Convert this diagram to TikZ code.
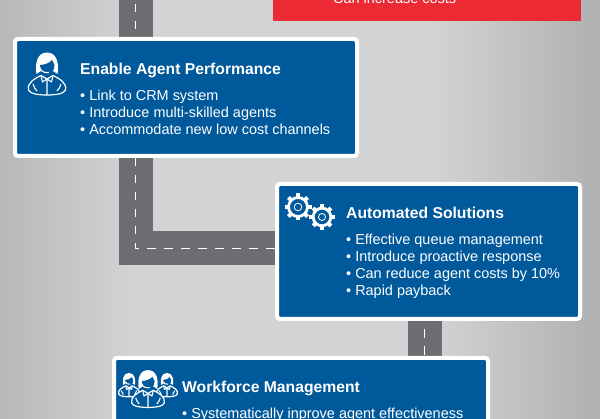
\documentclass[tikz,border=0pt]{standalone}
\usepackage{fontspec}
\setmainfont{Liberation Sans}
\usetikzlibrary{
    positioning,
    calc,
    shadows,
    backgrounds
}
\definecolor{cardblue}{HTML}{00599B}
\definecolor{roadgrey}{HTML}{6D6E71}
\definecolor{alertred}{HTML}{EC2A33}
\definecolor{paperleft}{HTML}{B7B8BA}
\definecolor{papermid}{HTML}{D2D3D5}
\definecolor{paperright}{HTML}{AEB0B2}
\pgfdeclarehorizontalshading{paper}{100bp}{
    color(0bp)=(paperleft);
    color(25bp)=(paperleft);
    color(36bp)=(papermid);
    color(61bp)=(papermid);
    color(75bp)=(paperright);
    color(100bp)=(paperright)
}
\tikzset{
    card/.style={
        rectangle,
        anchor=north west,
        fill=cardblue,
        draw=white,
        line width=4pt,
        rounded corners=3pt,
        drop shadow={opacity=.4, shadow xshift=0pt, shadow yshift=-1.5pt}
    },
    alert/.style={
        rectangle,
        anchor=north west,
        fill=alertred,
        inner sep=0pt,
        outer sep=0pt
    },
    heading/.style={
        font=\fontsize{15.7}{18}\selectfont\bfseries,
        text=white,
        inner sep=0pt,
        text height=11pt,
        text depth=3pt
    },
    points/.style={
        font=\fontsize{14.45}{17.3}\selectfont,
        text=white,
        align=left,
        inner sep=0pt
    },
    road/.style={
        draw=roadgrey,
        line width=34pt
    },
    lane/.style={
        draw=white,
        line width=1.2pt,
        dash pattern=on 8.5pt off 8.5pt
    },
    agent/.pic={
        \fill [white] (-10.5,0) .. controls (-12,8) and (-11,21.5) .. (0,21.5)
            .. controls (11,21.5) and (12,8) .. (10.5,0) -- (6,3) -- (-6,3) -- cycle;
        \fill [cardblue] (-7,9) .. controls (-3,9) and (3,11) .. (5,14)
            .. controls (6,12) and (7,11) .. (7.5,9)
            .. controls (7.5,3) and (3,-1) .. (0,-1)
            .. controls (-3,-1) and (-7,3) .. (-7,9) -- cycle;
        \draw [white, line width=1.1pt] (-7,6) .. controls (-6,2) and (-2,1) .. (2,1.5);
        \draw [white, line width=1.2pt, fill=cardblue, line join=round]
            (-6,-1.5) .. controls (-13,-5) and (-20,-9) .. (-18.5,-16)
            .. controls (-17,-20) and (-8,-21) .. (0,-21)
            .. controls (8,-21) and (17,-20) .. (18.5,-16)
            .. controls (20,-9) and (13,-5) .. (6,-1.5)
            -- (0,-5) -- cycle;
        \draw [white, line width=1.1pt, line join=round]
            (0,-5) -- (0,-21)
            (-6,-1.5) -- (-4.5,-8) -- (0,-5) -- (4.5,-8) -- (6,-1.5)
            (-14,-10) .. controls (-13,-13) and (-12,-15) .. (-10,-17)
            (14,-10) .. controls (13,-13) and (12,-15) .. (10,-17);
    },
    gearwheel/.pic={
        \foreach \tooth in {0,45,...,315} {
            \draw [white, line width=4pt] (\tooth:8) -- (\tooth:13.5);
        }
        \draw [white, line width=2.8pt, fill=cardblue] (0,0) circle (9.5);
        \draw [white, line width=.8pt] (0,0) circle (3.8);
    }
}
\begin{document}
\begin{tikzpicture}[x=1pt, y=1pt]
    \useasboundingbox (0,0) rectangle (600,419);

    % Red box running off the top
    \node [alert, minimum width=308pt, minimum height=40pt] (cost) at (273,438) {};
    \node [points, below right=11.5pt and 60pt of cost.north west] (costtext) {Can increase costs};

    % Enable Agent Performance
    \node [card, minimum width=342pt, minimum height=117pt] (enable) at (13,382) {};
    \node [heading, below right=26pt and 67pt of enable.north west] (enablehead) {Enable Agent Performance};
    \node [points, below right=12pt and 0pt of enablehead.south west] (enablelist) {%
        \textbullet\ Link to CRM system\\
        \textbullet\ Introduce multi-skilled agents\\
        \textbullet\ Accommodate new low cost channels};
    \pic at (47,345) {agent};

    % Automated Solutions
    \node [card, minimum width=303pt, minimum height=135pt] (automated) at (275,237) {};
    \node [heading, below right=25pt and 71pt of automated.north west] (automatedhead) {Automated Solutions};
    \node [points, below right=12pt and 0pt of automatedhead.south west] (automatedlist) {%
        \textbullet\ Effective queue management\\
        \textbullet\ Introduce proactive response\\
        \textbullet\ Can reduce agent costs by 10\%\\
        \textbullet\ Rapid payback};
    \pic at (298,212) {gearwheel};
    \pic [scale=.93] at (322,202) {gearwheel};

    % Workforce Management
    \node [card, minimum width=374pt, minimum height=120pt] (workforce) at (112,63) {};
    \node [heading, below right=25pt and 70pt of workforce.north west] (workforcehead) {Workforce Management};
    \node [points, below right=12pt and 0pt of workforcehead.south west] (workforcelist) {%
        \textbullet\ Systematically inprove agent effectiveness};
    \pic [scale=.56] at (129,34) {agent};
    \pic [scale=.56] at (167,34) {agent};
    \pic [scale=.88] at (148,30) {agent};

    % Road ends
    \coordinate (roadtop) at (135.5,419);
    \coordinate (roadlow) at (424.5,98);

    % Paper and road, behind the cards
    \begin{scope}[on background layer]
        \shade [shading=paper] (0,0) rectangle (600,419);
        \draw [road] (roadtop) -- (roadtop |- enable.north);
        \draw [road] (roadtop |- enable.south) |- ([yshift=3pt]automated.west);
        \draw [road] (roadlow |- automated.south) -- (roadlow |- workforce.north);
        \draw [lane, dash phase=13pt] (roadtop) -- (roadtop |- enable.north);
        \draw [lane] (roadtop |- enable.south) |- ([yshift=3pt]automated.west);
        \draw [lane, dash phase=8.5pt] (roadlow |- automated.south) -- (roadlow |- workforce.north);
    \end{scope}
\end{tikzpicture}
\end{document}
